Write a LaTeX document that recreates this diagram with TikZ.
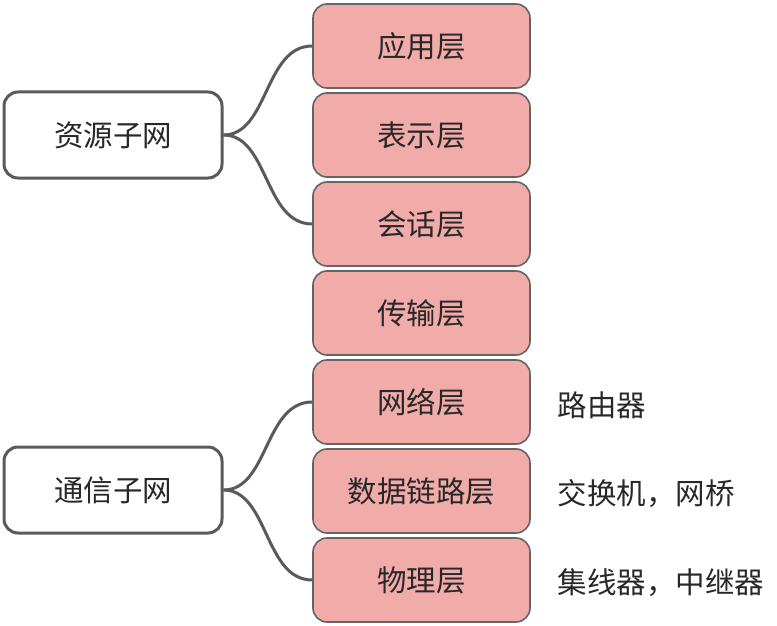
\documentclass[tikz,border=0pt]{standalone}
\usepackage{fontspec}
\setmainfont{Noto Sans CJK SC}
\definecolor{layerfill}{RGB}{241,171,168}
\definecolor{layerline}{RGB}{100,100,100}
\definecolor{linkgray}{RGB}{90,90,90}
\definecolor{textgray}{RGB}{40,40,40}
\tikzset{
  layer/.style={draw=layerline, line width=1.6pt, fill=layerfill, rounded corners=14pt,
    minimum width=217pt, minimum height=84pt, text=textgray, font=\fontsize{29.5}{34}\selectfont},
  subnet/.style={draw=linkgray, line width=3pt, fill=white, rounded corners=14pt,
    minimum width=218pt, minimum height=86pt, text=textgray, font=\fontsize{29.5}{34}\selectfont},
  device/.style={anchor=west, text=textgray, font=\fontsize{29.5}{34}\selectfont},
  link/.style={draw=linkgray, line width=3pt}
}
\begin{document}
\begin{tikzpicture}[x=1pt,y=-1pt]
\useasboundingbox (0,0) rectangle (777,626);
% the seven layers
\node[layer] (app) at (421.5,46) {应用层};
\node[layer] (pres) at (421.5,135) {表示层};
\node[layer] (sess) at (421.5,224) {会话层};
\node[layer] (trans) at (421.5,313) {传输层};
\node[layer] (net) at (421.5,402) {网络层};
\node[layer] (link) at (421.5,491) {数据链路层};
\node[layer] (phys) at (421.5,580) {物理层};
% the two subnets
\node[subnet] (res) at (113,135) {资源子网};
\node[subnet] (com) at (113,490) {通信子网};
% devices
\node[device] (router) at (554,405) {路由器};
\node[device] (switch) at (554,494) {交换机，网桥};
\node[device] (hub) at (554,583) {集线器，中继器};
% branches
\draw[link] (res.east) .. controls +(45,0) and +(-48,0) .. (app.west);
\draw[link] (res.east) .. controls +(45,0) and +(-48,0) .. (sess.west);
\draw[link] (com.east) .. controls +(45,0) and +(-48,0) .. (net.west);
\draw[link] (com.east) .. controls +(45,0) and +(-48,0) .. (phys.west);
\end{tikzpicture}
\end{document}
